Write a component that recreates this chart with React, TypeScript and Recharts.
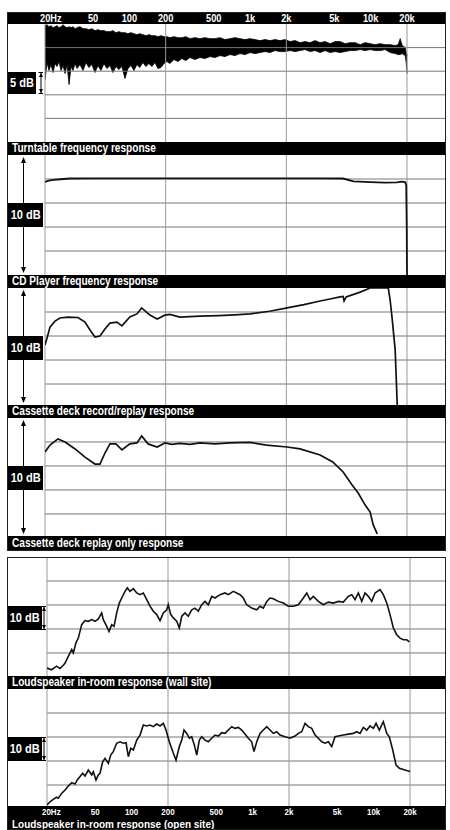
import React from "react";
import { Area, ComposedChart, Line, ReferenceLine, XAxis, YAxis } from "recharts";

// no condensed face installed: squeeze Liberation Sans Bold horizontally
const FONT = '"Liberation Sans", Arial, sans-serif';
const SQUEEZE = 0.84;

// axis ticks
const FREQ_TICKS = [20, 50, 100, 200, 500, 1000, 2000, 5000, 10000, 20000];
const FREQ_LABELS = ["20Hz", "50", "100", "200", "500", "1k", "2k", "5k", "10k", "20k"];
const THIRD_OCTAVE = [
  20, 25, 31.5, 40, 50, 63, 80, 100, 125, 160, 200, 250, 315, 400, 500, 630, 800, 1000, 1250,
  1600, 2000, 2500, 3150, 4000, 5000, 6300, 8000, 10000, 12500, 16000, 20000, 25000, 31500, 40000,
];
const DECADES = [20, 200, 2000, 20000];

const TITLES = [
  "Turntable frequency response",
  "CD Player frequency response",
  "Cassette deck record/replay response",
  "Cassette deck replay only response",
  "Loudspeaker in-room response (wall site)",
  "Loudspeaker in-room response (open site)",
];

// turntable: noisy band, low/high edge in dB
const TT_FREQ = [
  20, 20.78, 21.59, 22.43, 23.31, 24.22, 25.16, 26.14, 27.16, 28.22, 29.32, 30.46, 31.65, 32.88,
  34.16, 35.49, 36.87, 39.0, 41.3, 43.7, 46.2, 48.9, 51.9, 54.9, 58.2, 61.6, 65.2, 69.1, 73.1,
  77.4, 82.0, 86.8, 92.0, 97.4, 103.1, 109.2, 115.6, 122, 129.5, 137.2, 145.3, 153.8, 163, 172.5,
  182.7, 193.5, 204.8, 217, 234, 252.6, 272.4, 293.9, 318, 350, 385, 423, 466, 512, 564, 620,
  683, 751, 826, 909, 1000, 1100, 1211, 1332, 1466, 1613, 1774, 1952, 2148, 2363, 2600, 2860,
  3147, 3462, 3810, 4191, 4611, 5073, 5582, 6141, 6757, 7434, 8179, 8998, 9900, 10892, 11984,
  13185, 14506, 15960, 16900, 17560, 18240, 19320, 19690, 20070,
];
const TT_HIGH = [
  4.64, 4.85, 4.43, 4.64, 4.22, 4.43, 4.64, 4.22, 4.43, 4.85, 4.43, 4.22, 4.43, 4.22, 4.43, 4.01,
  4.22, 4.43, 4.01, 4.01, 3.8, 4.01, 3.59, 3.8, 3.59, 3.59, 3.38, 3.38, 3.59, 3.16, 3.38, 3.16,
  3.16, 2.95, 3.16, 2.95, 2.74, 2.95, 2.74, 2.53, 2.74, 2.53, 2.53, 2.32, 2.53, 2.32, 2.32, 2.11,
  2.32, 2.11, 2.11, 2.32, 1.9, 2.11, 1.9, 2.11, 1.9, 1.9, 2.11, 1.69, 1.9, 2.11, 1.9, 1.69, 1.9,
  1.69, 1.48, 1.69, 1.48, 1.69, 1.48, 1.69, 1.27, 1.48, 1.05, 1.27, 1.05, 1.48, 1.05, 1.27, 0.84,
  1.27, 1.27, 0.84, 1.05, 1.05, 0.63, 1.05, 0.84, 0.63, 0.84, 0.63, 0.63, 0.42, 0.63, 1.9, 0.42,
  0.0, -1.05, -1.69,
];
const TT_LOW = [
  -6.96, -3.16, -4.85, -3.59, -5.27, -3.38, -4.01, -2.95, -4.85, -3.8, -5.49, -3.59, -7.81, -4.01,
  -4.85, -3.38, -4.43, -3.59, -4.85, -3.16, -4.22, -3.59, -5.27, -3.8, -4.85, -3.38, -4.43, -3.8,
  -5.27, -4.01, -4.64, -4.01, -6.54, -4.43, -3.8, -4.85, -3.59, -4.22, -3.16, -4.01, -3.38, -4.01,
  -3.16, -4.43, -4.22, -3.38, -2.95, -3.38, -2.53, -2.95, -2.32, -2.74, -2.11, -2.53, -2.11, -2.32,
  -1.9, -2.11, -1.69, -1.9, -1.48, -1.69, -1.27, -1.48, -1.05, -1.27, -1.05, -0.84, -1.05, -0.63,
  -0.84, -0.84, -0.63, -0.84, -0.63, -0.42, -0.84, -0.63, -1.05, -0.63, -1.05, -0.84, -1.05, -0.84,
  -0.63, -0.63, -0.42, -0.63, -0.42, -0.63, -0.63, -0.42, -1.05, -1.27, -1.48, -1.48, -1.27, -1.69,
  -3.16, -5.49,
];

// CD player
const CD_FREQ = [
  20, 21.5, 23.5, 27, 32, 50, 100, 200, 500, 1000, 2000, 4000, 5900, 7200, 10000, 13000, 16500,
  18000, 19300, 19700, 19900, 20000,
];
const CD_DB = [
  -1.2, -0.7, -0.4, -0.1, 0.2, 0.3, 0.3, 0.3, 0.3, 0.3, 0.3, 0.3, 0.2, -1.0, -1.3, -1.5, -1.4,
  -1.1, -1.3, -2.5, -20, -40,
];

// cassette record/replay
const CR_FREQ = [
  20, 20.8, 22, 24.2, 26.6, 30.9, 37.5, 42.9, 47.2, 51.9, 57.1, 62.8, 69.1, 79, 86.8, 101, 115.6,
  126.5, 148, 170, 197, 217, 262, 385, 550, 750, 1000, 1450, 2030, 2800, 3810, 4600, 5580, 5910,
  6020, 6260, 8180, 9900, 14000, 14500, 15100, 15960, 16600,
];
const CR_DB = [
  -13.8, -10.8, -6.3, -3.8, -2.5, -2.1, -2.3, -4.2, -7.5, -10.4, -10.0, -7.1, -4.6, -4.2, -5.8,
  -2.1, -0.8, 1.7, -1.3, -2.9, -1.3, -1.0, -2.1, -1.7, -1.5, -1.2, -0.8, 0.3, 1.7, 3.1, 4.6, 5.4,
  6.3, 6.5, 4.6, 6.3, 8.3, 10, 10, 5, -3.3, -15.8, -38.75,
];

// cassette replay only
const CP_FREQ = [
  20, 22, 25.6, 29.3, 35.5, 42.9, 51.9, 57.1, 62.8, 69.1, 77.4, 86.8, 101, 115.6, 126.5, 143, 170,
  197, 225, 262, 318, 385, 512, 683, 1000, 1370, 2030, 2600, 3810, 4850, 5910, 7020, 7880, 9000,
  9900, 10500, 11330,
];
const CP_DB = [
  -4.2, -1.3, 1.3, 0, -2.9, -6.3, -9.2, -9.2, -4.6, -0.8, -0.8, -3.3, -0.8, -0.4, 2.5, -0.8, -2.1,
  -0.4, -1.0, -0.6, -1.0, -0.4, -0.8, -0.4, -0.2, -1.3, -2.1, -2.9, -5.4, -8.3, -12.5, -17.9, -21.3,
  -26.3, -29.2, -34.6, -38.3,
];

// loudspeaker, wall site
const LW_FREQ = [
  20, 21.8, 24.0, 25.6, 27.3, 28.2, 30.0, 32.0, 33.0, 34.7, 36.3, 38.7, 41.2, 43.9, 46.8, 49.9,
  53.1, 56.6, 58.4, 62.3, 65.1, 68.5, 71.6, 75.3, 79.2, 82.9, 88.2, 92.2, 97.0, 103.4, 110.3, 117.4,
  125.0, 133.4, 142.0, 151.2, 161.3, 171.8, 182.9, 195.1, 201, 210.8, 221.4, 236.1, 248.1, 259.7,
  276.4, 294.3, 314.0, 334.3, 356.0, 379.8, 404.4, 430.6, 459.4, 489.1, 538.1, 591.8, 630.0, 692.9,
  739.3, 787.0, 838.0, 894.0, 983.0, 1082, 1152, 1227, 1309, 1393, 1484, 1632, 1795, 1974, 2171,
  2388, 2626, 2801, 2984, 3175, 3493, 3842, 4225, 4646, 5109, 5620, 6181, 6596, 7022, 7478, 7975,
  8496, 9048, 9650, 10276, 11300, 12030, 12840, 13670, 14560, 15530, 16540, 17610, 18790, 19740,
];
const LW_DB = [
  -36.3, -37.0, -35.5, -36.5, -35.1, -34.2, -31.4, -28.6, -30.0, -25.8, -23.8, -18.2, -16.5, -16.8,
  -16.1, -16.8, -15.8, -13.3, -16.1, -18.9, -21.0, -18.2, -18.9, -13.3, -9.2, -7.1, -4.3, -2.9,
  -4.3, -3.2, -5.0, -5.7, -5.0, -7.8, -10.5, -12.6, -14.0, -16.5, -13.3, -12.0, -9.9, -14.0, -15.4,
  -16.8, -19.6, -14.7, -13.3, -14.7, -12.0, -11.3, -12.6, -9.9, -8.5, -9.9, -6.4, -7.1, -5.7, -5.0,
  -5.7, -4.3, -5.0, -5.7, -7.1, -9.9, -11.3, -12.0, -10.5, -11.3, -8.5, -7.1, -7.4, -8.5, -9.2,
  -10.5, -10.5, -9.9, -7.1, -5.0, -7.8, -6.4, -8.5, -9.9, -8.8, -9.2, -8.5, -8.8, -6.4, -5.7, -7.8,
  -5.0, -8.5, -5.0, -6.4, -8.5, -5.0, -3.6, -5.7, -9.2, -14.0, -19.6, -22.4, -23.8, -24.5, -24.5,
  -25.4,
];

// loudspeaker, open site
const LO_FREQ = [
  20, 21.2, 22.5, 24.0, 24.8, 26.4, 28.2, 30.0, 32.0, 34.1, 35.6, 37.5, 39.4, 41.2, 43.9, 46.8,
  48.3, 50.8, 53.1, 54.8, 57.7, 60.3, 64.3, 67.2, 70.6, 75.3, 80.3, 85.5, 90.0, 94.0, 98.4, 103.4,
  110.3, 117.4, 125.0, 133.4, 142.0, 151.2, 161.3, 171.8, 182.9, 192.5, 205.0, 221.4, 232.9, 248.1,
  259.7, 271.3, 285.7, 300.2, 314.0, 330.0, 345.4, 362.9, 379.8, 404.4, 430.6, 459.4, 489.1, 520.7,
  555.6, 591.8, 630.0, 672.1, 715.8, 762.0, 812.9, 865.6, 921.4, 983.0, 1027, 1082, 1152, 1227,
  1309, 1393, 1484, 1582, 1685, 1853, 2038, 2242, 2388, 2547, 2712, 2888, 3081, 3281, 3493, 3726,
  3968, 4225, 4508, 4801, 5109, 5620, 6181, 6799, 7253, 7725, 8225, 8777, 9344, 9950, 10475, 11151,
  12030, 12840, 13490, 14390, 15330, 16320, 17610, 18790, 20000,
];
const LO_DB = [
  -38.3, -37.0, -36.0, -35.1, -35.5, -33.5, -32.1, -30.4, -29.0, -29.6, -27.9, -26.5, -25.1, -26.3,
  -23.8, -25.8, -24.5, -27.9, -25.8, -25.1, -20.3, -18.9, -21.0, -17.5, -16.1, -12.6, -12.0, -12.6,
  -12.4, -18.2, -14.7, -15.4, -11.3, -9.2, -5.0, -5.4, -5.0, -5.7, -4.6, -5.4, -4.3, -7.1, -12.0,
  -16.8, -19.6, -14.0, -11.3, -7.1, -8.5, -10.5, -9.9, -13.3, -17.5, -11.3, -9.9, -11.3, -12.0,
  -10.5, -9.2, -9.6, -8.2, -8.5, -7.1, -5.7, -6.4, -6.0, -7.1, -8.8, -10.5, -12.0, -16.1, -12.0,
  -8.5, -7.1, -5.7, -7.1, -8.5, -7.8, -9.2, -9.9, -10.5, -9.6, -8.5, -7.8, -4.3, -5.7, -6.4, -9.2,
  -10.5, -12.0, -12.6, -12.0, -14.0, -9.9, -9.6, -9.2, -8.8, -8.5, -7.8, -8.5, -6.0, -7.1, -5.4,
  -6.4, -4.3, -7.1, -3.6, -8.5, -9.9, -15.4, -21.7, -23.0, -23.5, -24.0, -24.4,
];

const zip = (f: number[], v: number[]) => f.map((x, i) => ({ f: x, v: v[i] }));
const ttData = TT_FREQ.map((x, i) => ({ f: x, band: [TT_LOW[i], TT_HIGH[i]] }));

const INK = "#111";

function FreqLabel({ x, y, payload, dy, size }: any) {
  const i = FREQ_TICKS.indexOf(payload.value);
  const first = i === 0;
  return (
    <text transform={`translate(${first ? x - 5 : x},${y + dy}) scale(${SQUEEZE},1)`}
      textAnchor={first ? "start" : "middle"} fill="#fff" fontSize={size} fontWeight={700}
      fontFamily={FONT}>
      {FREQ_LABELS[i]}
    </text>
  );
}

type PanelProps = {
  top: number;
  height: number;
  left: number;
  xMax: number;
  yDomain: [number, number];
  grid: number[];
  data: any[];
  labels?: "top" | "bottom";
  children: React.ReactNode;
};

function Panel({ top, height, left, xMax, yDomain, grid, data, labels, children }: PanelProps) {
  const labelH = labels === "top" ? 12 : labels === "bottom" ? 24 : 0;
  return (
    <div style={{ position: "absolute", left: 7, top: labels === "top" ? top - labelH : top }}>
      <ComposedChart width={438} height={height + labelH} data={data}
        margin={{ top: 0, right: 0, bottom: 0, left }}>
        <XAxis xAxisId="b" dataKey="f" type="number" scale="log" domain={[20, xMax]}
          allowDataOverflow ticks={THIRD_OCTAVE} interval={0} mirror height={0} tick={false}
          tickSize={4} axisLine={false} tickLine={{ stroke: "#222" }} />
        <XAxis xAxisId="t" dataKey="f" type="number" scale="log" domain={[20, xMax]}
          allowDataOverflow orientation="top" ticks={FREQ_TICKS} interval={0} mirror height={0}
          tick={false} tickSize={3} axisLine={false} tickLine={{ stroke: "#555" }} />
        {labels && (
          <XAxis xAxisId="l" dataKey="f" type="number" scale="log" domain={[20, xMax]}
            allowDataOverflow orientation={labels} ticks={FREQ_TICKS} interval={0} height={labelH}
            tickSize={0} tickMargin={0} axisLine={false} tickLine={false}
            tick={(p: any) =>
              labels === "top" ? <FreqLabel {...p} dy={-2.5} size={11} /> : <FreqLabel {...p} dy={9} size={9.5} />
            } />
        )}
        <YAxis yAxisId="y" hide type="number" domain={yDomain} allowDataOverflow />
        {grid.map((g) => (
          <ReferenceLine key={"h" + g} xAxisId="b" yAxisId="y" y={g} stroke="#777" />
        ))}
        {DECADES.map((d) => (
          <ReferenceLine key={"v" + d} xAxisId="b" yAxisId="y" x={d} stroke="#999" />
        ))}
        {children}
      </ComposedChart>
    </div>
  );
}

function Squeezed({ children, k = SQUEEZE }: { children: React.ReactNode; k?: number }) {
  return (
    <span style={{ display: "inline-block", transform: `scaleX(${k})`, transformOrigin: "left center" }}>
      {children}
    </span>
  );
}

function Bar({ top, height, text }: { top: number; height: number; text?: string }) {
  return (
    <div style={{
      position: "absolute", left: 7, top, width: 438, height, background: "#000", color: "#fff",
      fontFamily: FONT, fontWeight: 700, fontSize: 12, lineHeight: height + "px", paddingLeft: 5,
      boxSizing: "border-box", whiteSpace: "nowrap", overflow: "hidden",
    }}>
      {text && <Squeezed>{text}</Squeezed>}
    </div>
  );
}

function DbBox({ top, width, height, text }: { top: number; width: number; height: number; text: string }) {
  return (
    <div style={{
      position: "absolute", left: 8, top, width, height, background: "#000", color: "#fff",
      fontFamily: FONT, fontWeight: 700, fontSize: 13, lineHeight: height + "px",
      whiteSpace: "nowrap", display: "flex", justifyContent: "center",
    }}>
      <span style={{ display: "inline-block", transform: "scaleX(0.85)" }}>{text}</span>
    </div>
  );
}

// long double arrow in the label column (panels 2-4)
function TallArrow({ top, height, boxTop }: { top: number; height: number; boxTop: number }) {
  const b1 = boxTop - top;
  const b2 = b1 + 24;
  return (
    <svg style={{ position: "absolute", left: 7, top }} width={36} height={height}>
      <line x1={16.5} y1={4} x2={16.5} y2={b1} stroke="#000" strokeWidth={1} />
      <line x1={16.5} y1={b2} x2={16.5} y2={height - 4} stroke="#000" strokeWidth={1} />
      <polygon points={`16.5,2 14,8 19,8`} fill="#000" />
      <polygon points={`16.5,${height - 2} 14,${height - 8} 19,${height - 8}`} fill="#000" />
    </svg>
  );
}

// short bracket next to a scale box
function Bracket({ x, top, height }: { x: number; top: number; height: number }) {
  return (
    <svg style={{ position: "absolute", left: x - 3, top }} width={6} height={height}>
      <line x1={3} y1={1} x2={3} y2={height - 1} stroke="#000" strokeWidth={1} />
      <line x1={0.5} y1={0.5} x2={5} y2={0.5} stroke="#000" strokeWidth={1} />
      <line x1={0.5} y1={height - 0.5} x2={5} y2={height - 0.5} stroke="#000" strokeWidth={1} />
      <polygon points={`3,1 1,5 5,5`} fill="#000" />
      <polygon points={`3,${height - 1} 1,${height - 5} 5,${height - 5}`} fill="#000" />
    </svg>
  );
}

function Frame({ top, height }: { top: number; height: number }) {
  return (
    <div style={{
      position: "absolute", left: 7, top, width: 439, height, border: "1px solid #222",
      boxSizing: "border-box", pointerEvents: "none",
    }} />
  );
}

const TOP_MAX = 41300;
const BOT_MAX = 38900;
const GRID10 = [0, -10, -20, -30];

export default function App() {
  return (
    <div style={{ position: "absolute", left: 0, top: 0, width: 450, height: 830, background: "#fff", overflow: "hidden" }}>
      <Bar top={12} height={12} />
      <Bar top={142} height={13} text={TITLES[0]} />
      <Bar top={275} height={13} text={TITLES[1]} />
      <Bar top={405} height={13} text={TITLES[2]} />
      <Bar top={536} height={15} text={TITLES[3]} />
      <Bar top={676} height={13} text={TITLES[4]} />
      <Bar top={806} height={24} />

      <Panel top={24} height={118} left={38} xMax={TOP_MAX} yDomain={[-20, 5]} grid={[0, -5, -10, -15]}
        data={ttData} labels="top">
        <Area xAxisId="b" yAxisId="y" dataKey="band" type="linear" stroke="#000" strokeWidth={0.8}
          fill="#000" fillOpacity={1} isAnimationActive={false} />
      </Panel>
      <Panel top={155} height={120} left={38} xMax={TOP_MAX} yDomain={[-40, 10]} grid={GRID10}
        data={zip(CD_FREQ, CD_DB)}>
        <Line xAxisId="b" yAxisId="y" dataKey="v" type="linear" stroke={INK} strokeWidth={1.8}
          dot={false} isAnimationActive={false} />
      </Panel>
      <Panel top={288} height={117} left={38} xMax={TOP_MAX} yDomain={[-38.75, 10]} grid={GRID10}
        data={zip(CR_FREQ, CR_DB)}>
        <Line xAxisId="b" yAxisId="y" dataKey="v" type="linear" stroke={INK} strokeWidth={1.7}
          dot={false} isAnimationActive={false} />
      </Panel>
      <Panel top={418} height={118} left={38} xMax={TOP_MAX} yDomain={[-39.2, 10]} grid={GRID10}
        data={zip(CP_FREQ, CP_DB)}>
        <Line xAxisId="b" yAxisId="y" dataKey="v" type="linear" stroke={INK} strokeWidth={1.7}
          dot={false} isAnimationActive={false} />
      </Panel>
      <Panel top={557} height={119} left={40} xMax={BOT_MAX} yDomain={[-39.6, 10]} grid={GRID10}
        data={zip(LW_FREQ, LW_DB)}>
        <Line xAxisId="b" yAxisId="y" dataKey="v" type="linear" stroke={INK} strokeWidth={1.6}
          dot={false} isAnimationActive={false} />
      </Panel>
      <Panel top={689} height={117} left={40} xMax={BOT_MAX} yDomain={[-38.75, 10]} grid={GRID10}
        data={zip(LO_FREQ, LO_DB)} labels="bottom">
        <Line xAxisId="b" yAxisId="y" dataKey="v" type="linear" stroke={INK} strokeWidth={1.6}
          dot={false} isAnimationActive={false} />
      </Panel>

      <div style={{
        position: "absolute", left: 12, top: 819, height: 11, lineHeight: "11px", color: "#fff",
        fontFamily: FONT, fontWeight: 700, fontSize: 10.5, whiteSpace: "nowrap",
      }}>
        <Squeezed k={0.95}>{TITLES[5]}</Squeezed>
      </div>

      <DbBox top={72} width={28} height={22} text="5 dB" />
      <Bracket x={41} top={72} height={22} />

      <TallArrow top={155} height={120} boxTop={203} />
      <DbBox top={203} width={35} height={24} text="10 dB" />
      <TallArrow top={288} height={117} boxTop={336} />
      <DbBox top={336} width={35} height={24} text="10 dB" />
      <TallArrow top={418} height={118} boxTop={466} />
      <DbBox top={466} width={35} height={24} text="10 dB" />

      <DbBox top={606} width={34} height={24} text="10 dB" />
      <Bracket x={44} top={606} height={24} />
      <DbBox top={737} width={34} height={24} text="10 dB" />
      <Bracket x={44} top={737} height={24} />

      <Frame top={12} height={539} />
      <Frame top={557} height={273} />
    </div>
  );
}
